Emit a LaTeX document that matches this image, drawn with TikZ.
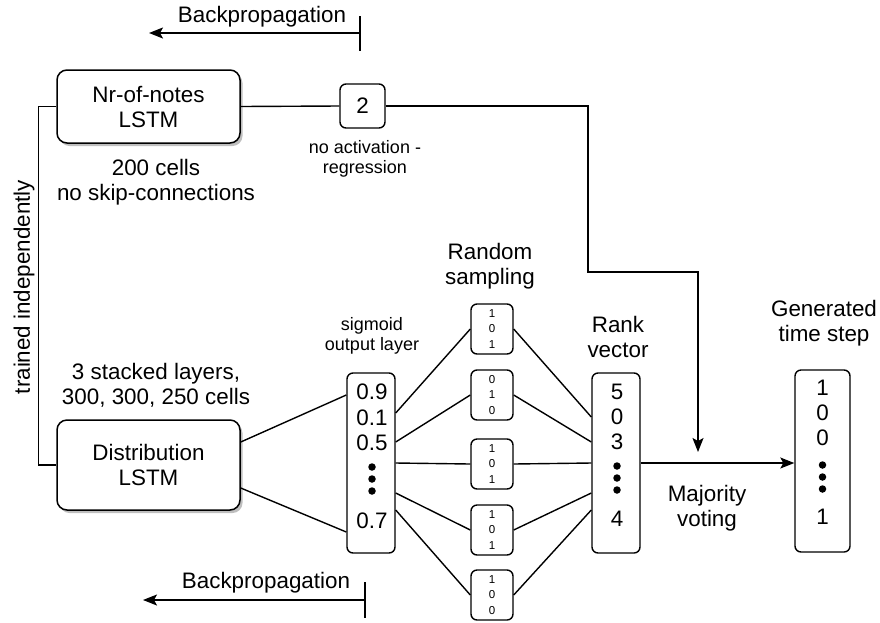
\documentclass[tikz,border=0pt]{standalone}
\usepackage{fontspec}
\setmainfont{Liberation Sans}
\usetikzlibrary{arrows.meta,shadows,calc}
\newcommand{\bigf}{\fontsize{22.4}{25}\selectfont}
\newcommand{\midf}{\fontsize{18}{20.5}\selectfont}
\newcommand{\tinyf}{\fontsize{11.5}{15.5}\selectfont}
\tikzset{
  lstm/.style={draw, line width=1.5pt, rounded corners=10pt, fill=white, align=center, font=\bigf,
    minimum width=183pt, drop shadow={shadow xshift=2.5pt, shadow yshift=-3pt, opacity=0.25, fill=black}},
  vecbox/.style={draw, line width=1.4pt, rounded corners=6pt, fill=white, inner sep=0pt},
  lab/.style={align=center, font=\bigf, inner sep=0pt},
  smalllab/.style={align=center, font=\midf, inner sep=0pt},
  num/.style={font=\bigf, inner sep=0pt},
  tnum/.style={font=\tinyf, inner sep=0pt, align=center},
  conn/.style={line width=1.4pt},
  arr/.style={line width=1.4pt, -{Stealth[length=14pt,width=11pt,inset=3pt]}},
  vdot/.style={circle, fill=black, inner sep=0pt, minimum size=7.5pt},
}
\begin{document}
\begin{tikzpicture}[x=1pt,y=-1pt]
\path[use as bounding box] (0,0) rectangle (880,622);

% LSTM boxes
\node[lstm, minimum height=73pt] (nr) at (148.5,106.5) {Nr-of-notes\\LSTM};
\node[lstm, minimum height=90pt] (dist) at (148.5,465) {Distribution\\LSTM};
\node[lab] (nrlab) at (156,182) {200 cells\\no skip-connections};
\node[lab] (distlab) at (156,385) {3 stacked layers,\\300, 300, 250 cells};

% box 2
\node[vecbox, minimum width=45pt, minimum height=44pt, font=\bigf] (two) at (362.5,106) {2};
\node[smalllab] (twolab) at (365,159) {no activation -\\regression};

% left connector
\draw[conn] (nr.west) -- ++(-18,0) |- (dist.west);
\node[lab, rotate=90] (trlab) at (24,287) {trained independently};

% Nr -> 2
\draw[conn] (nr.east) -- (two.west);

% sigmoid layer
\node[vecbox, minimum width=48pt, minimum height=180pt] (sig) at (371,463) {};
\node[smalllab] (siglab) at (372,336) {sigmoid\\output layer};
\node[num] (s1) at (372,392) {0.9};
\node[num] (s2) at (372,418) {0.1};
\node[num] (s3) at (372,443) {0.5};
\node[vdot] (sd1) at (372,467) {};
\node[vdot] (sd2) at (372,479) {};
\node[vdot] (sd3) at (372,491) {};
\node[num] (s4) at (372,521) {0.7};

\draw[conn] ([yshift=23pt]dist.east) -- ([yshift=68pt]sig.west);
\draw[conn] ([yshift=-23pt]dist.east) -- ([yshift=-69pt]sig.west);

% random sampling
\node[lab] (rslab) at (490,266) {Random\\sampling};
\node[vecbox, minimum width=42pt, minimum height=50pt] (r1) at (492,329) {};
\node[tnum] at (r1) {1\\0\\1};
\node[vecbox, minimum width=42pt, minimum height=50pt] (r2) at (492,395) {};
\node[tnum] at (r2) {0\\1\\0};
\node[vecbox, minimum width=42pt, minimum height=50pt] (r3) at (492,464) {};
\node[tnum] at (r3) {1\\0\\1};
\node[vecbox, minimum width=42pt, minimum height=50pt] (r4) at (492,530) {};
\node[tnum] at (r4) {1\\0\\1};
\node[vecbox, minimum width=42pt, minimum height=50pt] (r5) at (492,595) {};
\node[tnum] at (r5) {1\\0\\0};

% rank vector
\node[vecbox, minimum width=48pt, minimum height=180pt] (rank) at (616,463) {};
\node[lab] (ranklab) at (618,337) {Rank\\vector};
\node[num] (k1) at (617,392) {5};
\node[num] (k2) at (617,417) {0};
\node[num] (k3) at (617,442) {3};
\node[vdot] (kd1) at (617,466) {};
\node[vdot] (kd2) at (617,478) {};
\node[vdot] (kd3) at (617,490) {};
\node[num] (k4) at (617,519) {4};

% sig -> samples
\draw[conn] ([yshift=50pt]sig.east) -- (r1.west);
\draw[conn] ([yshift=21pt]sig.east) -- (r2.west);
\draw[conn] (sig.east) -- (r3.west);
\draw[conn] ([yshift=-30pt]sig.east) -- (r4.west);
\draw[conn] ([yshift=-47pt]sig.east) -- (r5.west);
% samples -> rank
\draw[conn] (r1.east) -- ([yshift=46pt]rank.west);
\draw[conn] (r2.east) -- ([yshift=21pt]rank.west);
\draw[conn] (r3.east) -- (rank.west);
\draw[conn] (r4.east) -- ([yshift=-30pt]rank.west);
\draw[conn] (r5.east) -- ([yshift=-47pt]rank.west);

% generated
\node[vecbox, minimum width=55pt, minimum height=182pt] (gen) at (822.5,461) {};
\node[lab] (genlab) at (824,323) {Generated\\time step};
\node[num] (g1) at (822.5,388) {1};
\node[num] (g2) at (822.5,413) {0};
\node[num] (g3) at (822.5,438) {0};
\node[vdot] (gd1) at (822.5,465) {};
\node[vdot] (gd2) at (822.5,477) {};
\node[vdot] (gd3) at (822.5,489) {};
\node[num] (g4) at (822.5,517) {1};

\draw[arr] (rank.east) -- (rank.east -| gen.west);
\node[lab] (majlab) at (707,508) {Majority\\voting};

% 2 -> majority voting
\coordinate (vote) at (698,452);
\draw[arr] (two.east) -- (588,106) -- (588,272) -- (698,272) -- (vote);

% backpropagation arrows
\coordinate (bp1s) at (360,33);
\coordinate (bp1e) at (149,33);
\draw[arr] (bp1s) -- (bp1e);
\draw[conn] (360,16) -- (360,51);
\node[lab] (bp1lab) at (262,17) {Backpropagation};

\coordinate (bp2s) at (365,600);
\coordinate (bp2e) at (143,600);
\draw[arr] (bp2s) -- (bp2e);
\draw[conn] (365,582) -- (365,618);
\node[lab] (bp2lab) at (266,583) {Backpropagation};
\end{tikzpicture}
\end{document}
